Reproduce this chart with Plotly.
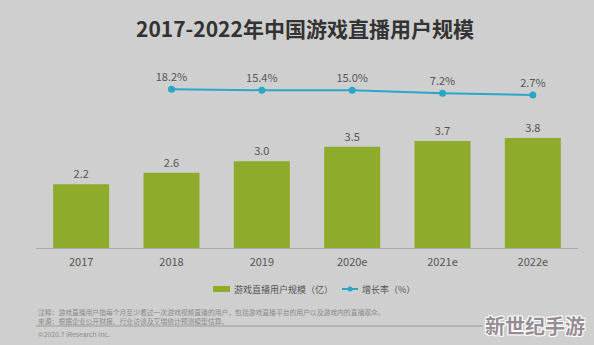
import plotly.graph_objects as go

categories = ["2017", "2018", "2019", "2020e", "2021e", "2022e"]
users = [2.2, 2.6, 3.0, 3.5, 3.7, 3.8]
growth_cats = ["2018", "2019", "2020e", "2021e", "2022e"]
growth = [18.2, 15.4, 15.0, 7.2, 2.7]
legend_labels = ["游戏直播用户规模（亿）", "增长率（%）"]

BG = "#cfcfcf"
GREEN = "#8fab2b"
BLUE = "#2aa6c8"
TXT = "#555555"
FONT = "Noto Sans CJK SC"

# plot area in pixels: x 36..578, y 60..248
def px(x):
    return (x - 36) / 542

def py(y):
    return (248 - y) / 188

fig = go.Figure()
fig.add_trace(go.Bar(
    x=categories, y=users, name=legend_labels[0],
    marker=dict(color=GREEN, line=dict(width=0)),
    text=[f"{v:.1f}" for v in users], textposition="outside",
    textfont=dict(size=11, color=TXT, family=FONT),
    cliponaxis=False, showlegend=False,
))
fig.add_trace(go.Scatter(
    x=growth_cats, y=growth, name=legend_labels[1], yaxis="y2",
    mode="lines+markers+text",
    line=dict(color=BLUE, width=2),
    marker=dict(color=BLUE, size=7),
    text=[f"{v:.1f}%" for v in growth], textposition="top center",
    textfont=dict(size=11, color=TXT, family=FONT),
    cliponaxis=False, showlegend=False,
))

note_font = dict(size=6.8, color="#8a8a8a", family=FONT)
ly = 289

fig.update_layout(
    width=594, height=345,
    paper_bgcolor=BG, plot_bgcolor=BG,
    margin=dict(l=36, r=16, t=60, b=97),
    font=dict(family=FONT, color=TXT),
    bargap=0.38,
    showlegend=False,
    xaxis=dict(showgrid=False, zeroline=False, showline=True, linecolor="#aaaaaa", linewidth=1,
               ticks="", tickfont=dict(size=11, color=TXT, family=FONT), ticklabelstandoff=4),
    yaxis=dict(range=[0, 6.5], visible=False, showgrid=False),
    yaxis2=dict(range=[-411, 97], overlaying="y", visible=False, showgrid=False),
    annotations=[
        dict(text="<b>2017-2022年中国游戏直播用户规模</b>", xref="paper", yref="paper",
             x=px(305), y=py(28), xanchor="center", yanchor="middle",
             showarrow=False, font=dict(size=21, color="#333333", family=FONT)),
        dict(text=legend_labels[0], xref="paper", yref="paper", x=px(232), y=py(ly),
             xanchor="left", yanchor="middle", showarrow=False,
             font=dict(size=9, color=TXT, family=FONT)),
        dict(text=legend_labels[1], xref="paper", yref="paper", x=px(360), y=py(ly),
             xanchor="left", yanchor="middle", showarrow=False,
             font=dict(size=9, color=TXT, family=FONT)),
        dict(text="注释：游戏直播用户指每个月至少看过一次游戏视频直播的用户，包括游戏直播平台的用户以及游戏内的直播观众。",
             xref="paper", yref="paper", x=px(36), y=py(312),
             xanchor="left", yanchor="middle", showarrow=False, font=note_font),
        dict(text="来源：根据企业公开财报、行业访谈及艾瑞统计预测模型估算。",
             xref="paper", yref="paper", x=px(36), y=py(321),
             xanchor="left", yanchor="middle", showarrow=False, font=note_font),
        dict(text="©2020.7 iResearch Inc.",
             xref="paper", yref="paper", x=px(36), y=py(334),
             xanchor="left", yanchor="middle", showarrow=False, font=note_font),
        dict(text="<b>新世纪手游</b>", xref="paper", yref="paper",
             x=px(535), y=py(325), xanchor="center", yanchor="middle",
             showarrow=False,
             font=dict(size=20, color="#968c93", family=FONT,
                       shadow="1px 1px 0 #fff, -1px -1px 0 #fff, 1px -1px 0 #fff, -1px 1px 0 #fff")),
    ],
    shapes=[
        dict(type="rect", xref="paper", yref="paper",
             x0=px(213), x1=px(230), y0=py(ly - 3), y1=py(ly + 3),
             fillcolor=GREEN, line=dict(width=0)),
        dict(type="line", xref="paper", yref="paper",
             x0=px(342), x1=px(358), y0=py(ly), y1=py(ly),
             line=dict(color=BLUE, width=2)),
        dict(type="circle", xref="paper", yref="paper",
             x0=px(347.5), x1=px(352.5), y0=py(ly - 2.5), y1=py(ly + 2.5),
             fillcolor=BLUE, line=dict(width=0)),
        dict(type="line", xref="paper", yref="paper",
             x0=0, x1=px(483), y0=py(326), y1=py(326),
             line=dict(color="#9a9a9a", width=1)),
    ],
)

fig.write_html("out.html")
